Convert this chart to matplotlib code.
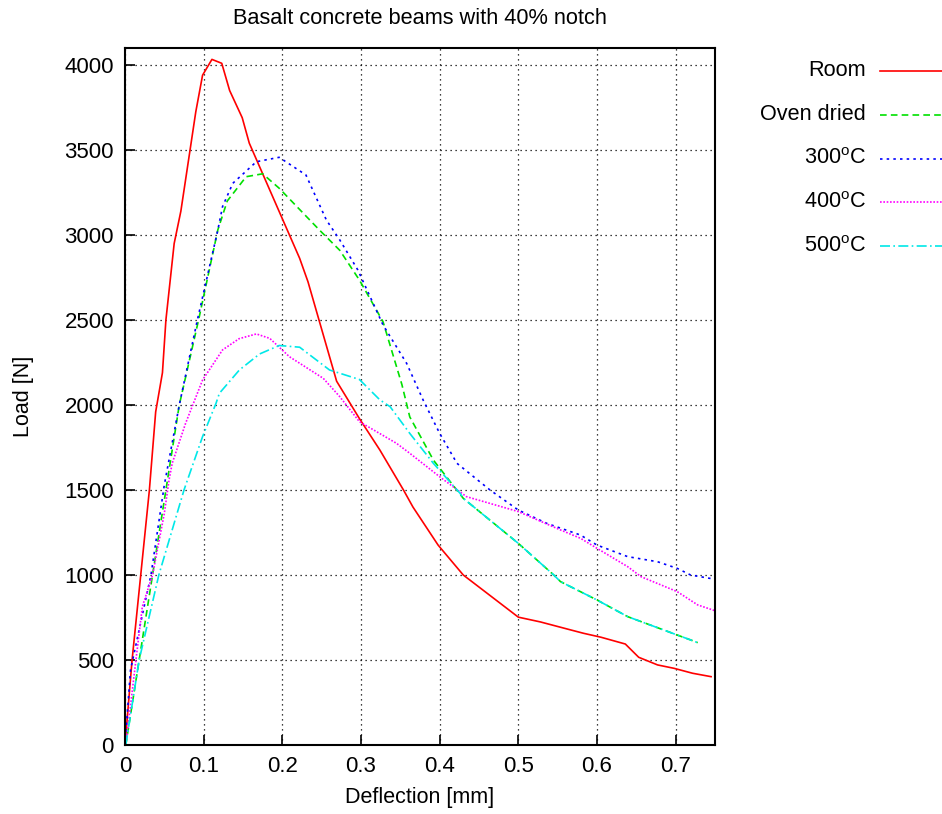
import matplotlib
matplotlib.use("Agg")
import matplotlib.pyplot as plt
from matplotlib.lines import Line2D

plt.rcParams['font.family'] = ['Liberation Sans', 'DejaVu Sans']
plt.rcParams['mathtext.fontset'] = 'custom'
plt.rcParams['mathtext.rm'] = 'Liberation Sans'
plt.rcParams['mathtext.it'] = 'Liberation Sans'

title = "Basalt concrete beams with 40% notch"
xlabel = "Deflection [mm]"
ylabel = "Load [N]"
labels = ["Room", "Oven dried", "300$^{\\mathrm{o}}$C", "400$^{\\mathrm{o}}$C", "500$^{\\mathrm{o}}$C"]

room_x = [0.0, 0.009, 0.031, 0.039, 0.0476, 0.052, 0.0625, 0.071, 0.090, 0.0986, 0.1105, 0.123,
          0.133, 0.149, 0.158, 0.222, 0.2326, 0.269, 0.298, 0.324, 0.354, 0.366, 0.398, 0.43,
          0.5, 0.528, 0.564, 0.583, 0.605, 0.636, 0.653, 0.677, 0.698, 0.7215, 0.745]
room_y = [0, 500, 1500, 1960, 2190, 2500, 2950, 3140, 3725, 3940, 4033, 4010,
          3850, 3690, 3540, 2863, 2725, 2140, 1920, 1735, 1500, 1400, 1176, 1000,
          752, 724, 680, 657, 634, 594, 516, 471, 451, 422, 402]

oven_x = [0.001, 0.018, 0.035, 0.052, 0.069, 0.094, 0.118, 0.13, 0.154, 0.175, 0.196, 0.247,
          0.273, 0.298, 0.328, 0.352, 0.362, 0.392, 0.43, 0.5, 0.545, 0.5536, 0.6, 0.639,
          0.702, 0.719, 0.728]
oven_y = [0, 500, 1000, 1500, 2000, 2510, 3030, 3200, 3343, 3360, 3275, 3030,
          2910, 2735, 2490, 2120, 1930, 1676, 1451, 1186, 1000, 961, 853, 755,
          647, 618, 602]

t300_x = [0.0, 0.007, 0.033, 0.05, 0.069, 0.092, 0.118, 0.124, 0.137, 0.167, 0.196, 0.23,
          0.256, 0.273, 0.296, 0.328, 0.358, 0.379, 0.4, 0.422, 0.464, 0.5, 0.536, 0.579,
          0.6, 0.639, 0.677, 0.702, 0.719, 0.75]
t300_y = [0, 441, 1000, 1530, 2000, 2500, 3029, 3167, 3304, 3431, 3457, 3353,
          3088, 2971, 2794, 2471, 2245, 2029, 1833, 1657, 1500, 1382, 1304, 1235,
          1176, 1108, 1078, 1039, 1000, 975]

t400_x = [0.001, 0.022, 0.035, 0.05, 0.056, 0.06, 0.077, 0.0986, 0.124, 0.145, 0.167, 0.184,
          0.209, 0.252, 0.273, 0.298, 0.345, 0.362, 0.4, 0.434, 0.5, 0.5536, 0.579, 0.6,
          0.639, 0.656, 0.702, 0.728, 0.75]
t400_y = [0, 813, 1000, 1363, 1559, 1657, 1892, 2147, 2324, 2390, 2418, 2392,
          2284, 2157, 2049, 1902, 1775, 1716, 1578, 1461, 1373, 1265, 1216, 1157,
          1049, 990, 902, 824, 790]

t500_x = [0.001, 0.018, 0.043, 0.075, 0.0986, 0.1157, 0.12, 0.1454, 0.171, 0.196, 0.222,
          0.26, 0.298, 0.324, 0.337, 0.362, 0.392, 0.426, 0.43, 0.5, 0.545, 0.5536, 0.6,
          0.639, 0.702, 0.719, 0.728]
t500_y = [0, 500, 1000, 1500, 1814, 2010, 2069, 2206, 2300, 2350, 2340,
          2206, 2150, 2030, 1990, 1833, 1657, 1480, 1451, 1186, 1000, 961, 853,
          755, 647, 618, 602]

series_x = [room_x, oven_x, t300_x, t400_x, t500_x]
series_y = [room_y, oven_y, t300_y, t400_y, t500_y]
colors = ['#ff0000', '#00e000', '#0000ff', '#ff00ff', '#00e8e8']
styles = ['-', (0, (4, 2.5)), (0, (1.5, 2.5)), (0, (1, 1)), (0, (6, 2, 1, 2))]

fig = plt.figure(figsize=(9.42, 8.14), dpi=100)
ax = fig.add_axes([125/942, 1-745/814, (715-125)/942, (745-48)/814])

for x, y, c, ls in zip(series_x, series_y, colors, styles):
    ax.plot(x, y, color=c, linestyle=ls, linewidth=1.2)

ax.set_xlim(0, 0.75)
ax.set_ylim(0, 4100)
ax.set_xticks([0, 0.1, 0.2, 0.3, 0.4, 0.5, 0.6, 0.7])
ax.set_xticklabels(["0", "0.1", "0.2", "0.3", "0.4", "0.5", "0.6", "0.7"])
ax.set_yticks(range(0, 4001, 500))
ax.grid(True, color='black', linestyle=(0, (1, 3)), linewidth=0.9)
ax.tick_params(direction='in', length=7, width=1.2, labelsize=16, pad=8)
for s in ax.spines.values():
    s.set_linewidth(1.5)

ax.set_title(title, fontsize=15.7, pad=17)
ax.set_xlabel(xlabel, fontsize=15.5, labelpad=7)
ax.set_ylabel(ylabel, fontsize=15.5, labelpad=22)

for i, (lab, c, ls) in enumerate(zip(labels, colors, styles)):
    yy = 1 - (71 + 43.8 * i) / 814
    fig.text(866/942, yy, lab, ha='right', va='center', fontsize=15.6)
    fig.add_artist(Line2D([880/942, 1.0], [yy, yy], transform=fig.transFigure,
                          color=c, linestyle=ls, linewidth=1.2))

fig.savefig("out.png", dpi=100)
